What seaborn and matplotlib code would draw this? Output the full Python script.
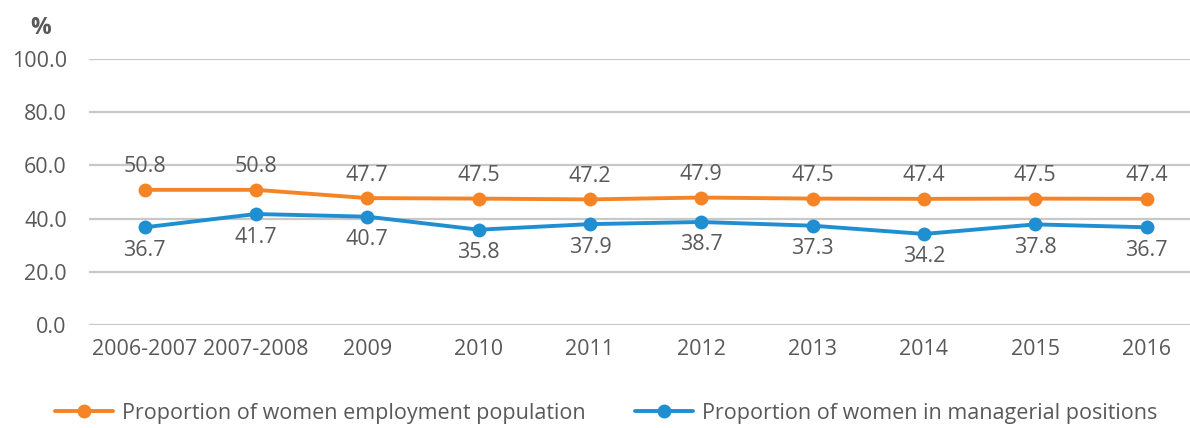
import matplotlib
matplotlib.use("Agg")
import matplotlib.pyplot as plt
import seaborn as sns
import pandas as pd

periods = ["2006-2007", "2007-2008", "2009", "2010", "2011",
           "2012", "2013", "2014", "2015", "2016"]
employment = [50.8, 50.8, 47.7, 47.5, 47.2, 47.9, 47.5, 47.4, 47.5, 47.4]
managerial = [36.7, 41.7, 40.7, 35.8, 37.9, 38.7, 37.3, 34.2, 37.8, 36.7]
series_names = ["Proportion of women employment population",
                "Proportion of women in managerial positions"]
y_ticks = [0, 20, 40, 60, 80, 100]

colors = {series_names[0]: "#F58426", series_names[1]: "#1F8FD2"}
text_color = "#595959"
fs = 15.5

sns.set_theme(style="white")
plt.rcParams["font.family"] = ["Open Sans", "DejaVu Sans"]

df = pd.DataFrame({
    "period": periods * 2,
    "x": list(range(len(periods))) * 2,
    "value": employment + managerial,
    "series": [series_names[0]] * len(periods) + [series_names[1]] * len(periods),
})

fig = plt.figure(figsize=(11.9, 4.28), dpi=100)
ax = fig.add_axes([0.0748, 0.241, 0.9252, 0.621])

sns.lineplot(data=df, x="x", y="value", hue="series", palette=colors,
             marker="o", markersize=10, markeredgewidth=0, linewidth=2.8,
             ax=ax, legend=False, zorder=3)

# value labels: employment above its points, managerial below
for xi, v in zip(range(len(periods)), employment):
    ax.annotate(f"{v:.1f}", (xi, v), xytext=(0, 9), textcoords="offset points",
                ha="center", va="bottom", fontsize=fs, color=text_color)
for xi, v in zip(range(len(periods)), managerial):
    ax.annotate(f"{v:.1f}", (xi, v), xytext=(0, -9), textcoords="offset points",
                ha="center", va="top", fontsize=fs, color=text_color)

ax.set_xlim(-0.5, 9.39)
ax.set_ylim(0, 100)
ax.set_xticks(range(len(periods)))
ax.set_xticklabels(periods)
ax.set_yticks(y_ticks)
ax.set_yticklabels([f"{t:.1f}" for t in y_ticks])
ax.tick_params(axis="both", length=0, labelsize=fs, labelcolor=text_color)
ax.tick_params(axis="x", pad=10)
ax.tick_params(axis="y", pad=16)
ax.grid(axis="y", color="#C8C8C8", linewidth=1.6)
ax.grid(axis="x", visible=False)
for s in ax.spines.values():
    s.set_visible(False)
ax.set_xlabel("")
ax.set_ylabel("")

fig.text(0.034, 0.935, "%", fontsize=16.5, fontweight="bold", color=text_color,
         ha="center", va="center")

handles = [plt.Line2D([], [], color=colors[n], marker="o", markersize=10,
                      markeredgewidth=0, linewidth=2.8) for n in series_names]
fig.legend(handles, series_names, loc="center left", bbox_to_anchor=(0.046, 0.035),
           ncol=2, frameon=False, fontsize=fs, labelcolor=text_color,
           handlelength=2.7, columnspacing=2.3, handletextpad=0.42,
           borderpad=0, borderaxespad=0)

fig.savefig("out.png", dpi=100)
